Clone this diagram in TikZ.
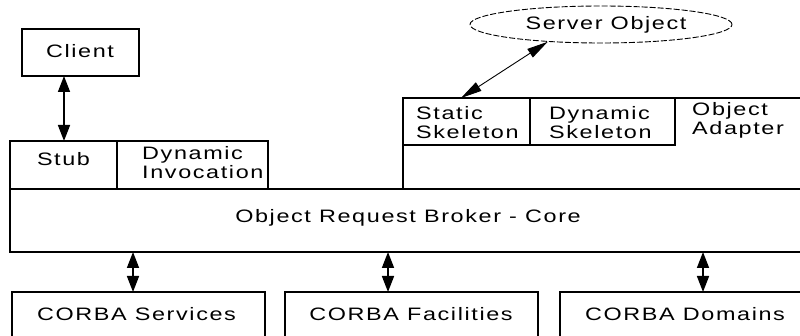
\documentclass[tikz,border=0pt]{standalone}
\usepackage{fontspec}
\usetikzlibrary{arrows.meta,shapes.geometric}
\newfontfamily\wf[FakeStretch=1.3,LetterSpace=9]{Liberation Sans}
\begin{document}
\begin{tikzpicture}[x=1pt,y=-1pt,
  box/.style={draw, line width=1.2pt, rectangle, inner sep=0pt, outer sep=0pt, anchor=north west},
  txt/.style={font=\wf\fontsize{18}{19}\selectfont},
  lbl/.style={txt, inner sep=0pt, align=left, anchor=north west},
  ctr/.style={txt, inner sep=0pt, anchor=base},
  varr/.style={line width=1.6pt, {Triangle[width=12pt,length=16pt]}-{Triangle[width=12pt,length=16pt]}},
  darr/.style={line width=0.9pt, {Triangle[width=10pt,length=21pt]}-{Triangle[width=10pt,length=21pt]}}]
\useasboundingbox (0,0) rectangle (800,336);
\clip (0,0) rectangle (800,336);
% boxes
\node[box, minimum width=117pt, minimum height=47pt] (client) at (22,29) {};
\node[box, minimum width=107pt, minimum height=48pt] (stub) at (10,141) {};
\node[box, minimum width=151pt, minimum height=48pt] (dinv) at (117,141) {};
\node[box, minimum width=795pt, minimum height=63pt] (orb) at (10,189) {};
\node[box, minimum width=407pt, minimum height=91pt] (oa) at (403,98) {};
\node[box, minimum width=127pt, minimum height=47pt] (ssk) at (403,98) {};
\node[box, minimum width=145pt, minimum height=47pt] (dsk) at (530,98) {};
\node[ellipse, draw, txt, dash pattern=on 6pt off 2pt, line width=0.9pt,
      minimum width=262pt, minimum height=37pt, inner sep=0pt] (srv) at (601,24.5) {};
\node[box, minimum width=253pt, minimum height=55pt] (svc) at (12,292) {};
\node[box, minimum width=253pt, minimum height=55pt] (fac) at (285,292) {};
\node[box, minimum width=250pt, minimum height=55pt] (dom) at (560,292) {};
% labels
\node[ctr] (clientT) at (80,57.5) {Client};
\node[ctr] (srvT) at (606,30) {Server Object};
\node[ctr] (stubT) at (63.5,166) {Stub};
\node[lbl] (dinvT) at (142,145.9) {Dynamic\\Invocation};
\node[lbl] (sskT) at (416,105.9) {Static\\Skeleton};
\node[lbl] (dskT) at (549,105.9) {Dynamic\\Skeleton};
\node[lbl] (oaT) at (692,101.9) {Object\\Adapter};
\node[ctr] (orbT) at (408,222.5) {Object Request Broker - Core};
\node[ctr] (svcT) at (136.5,320) {CORBA Services};
\node[ctr] (facT) at (411,320) {CORBA Facilities};
\node[ctr] (domT) at (685,320) {CORBA Domains};
% connectors
\coordinate (c1) at ([xshift=42pt]client.south west);
\draw[varr] (c1) -- (c1 |- stub.north);
\coordinate (a1) at ([xshift=121pt]svc.north west);
\coordinate (a2) at ([xshift=103pt]fac.north west);
\coordinate (a3) at ([xshift=143pt]dom.north west);
\draw[varr] (a1 |- orb.south) -- (a1);
\draw[varr] (a2 |- orb.south) -- (a2);
\draw[varr] (a3 |- orb.south) -- (a3);
\coordinate (d1) at ([xshift=58pt]ssk.north west);
\draw[darr] (d1) -- (srv.198);
\end{tikzpicture}
\end{document}
